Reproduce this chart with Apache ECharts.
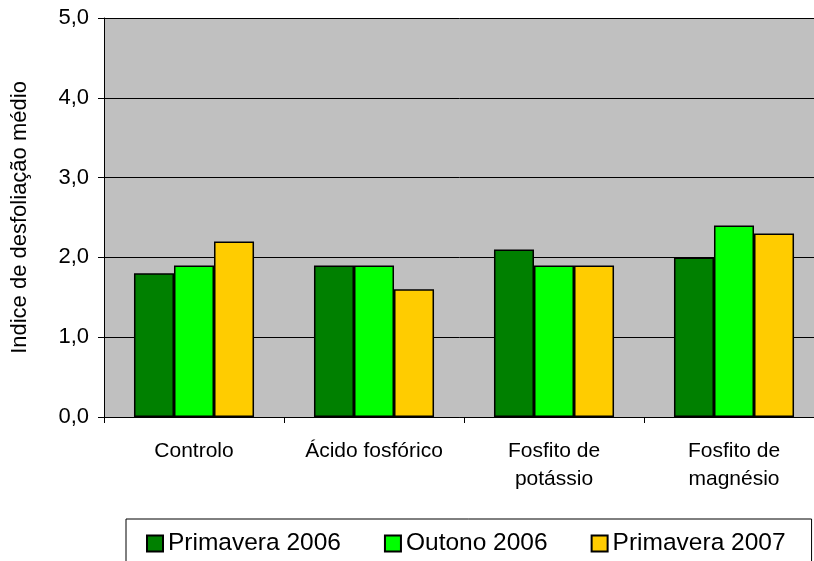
<!DOCTYPE html>
<html>
<head>
<meta charset="utf-8">
<script src="https://cdn.jsdelivr.net/npm/echarts@6/dist/echarts.min.js"></script>
<style>
  html, body { margin: 0; padding: 0; background: #fff; }
  #chart { width: 814px; height: 561px; }
</style>
</head>
<body>
<div id="chart"></div>
<script>
// categorias e valores
var categories = ["Controlo", "Ácido fosfórico", "Fosfito de\npotássio", "Fosfito de\nmagnésio"];
var seriesNames = ["Primavera 2006", "Outono 2006", "Primavera 2007"];
var primavera2006 = [1.8, 1.9, 2.1, 2.0];
var outono2006 = [1.9, 1.9, 1.9, 2.4];
var primavera2007 = [2.2, 1.6, 1.9, 2.3];
var colors = ["#008000", "#00FF00", "#FFCC00"];

var chart = echarts.init(document.getElementById("chart"));

function barSeries(name, data, color) {
  return {
    name: name,
    type: "bar",
    data: data,
    barGap: "0%",
    barCategoryGap: "33.3%",
    itemStyle: { color: color, borderColor: "#000", borderWidth: 1.5 }
  };
}

chart.setOption({
  animation: false,
  textStyle: { fontFamily: "Liberation Sans, Arial, sans-serif" },
  grid: {
    left: 104, top: 18, right: -10, bottom: 144,
    outerBoundsMode: "none",
    containLabel: false,
    backgroundColor: "#C0C0C0", show: true, borderWidth: 0
  },
  legend: {
    left: 126,
    top: 519,
    padding: [12, 26, 14, 20],
    itemGap: 43,
    itemWidth: 16,
    itemHeight: 16,
    icon: "rect",
    borderColor: "#000",
    borderWidth: 1,
    textStyle: { fontSize: 24.5, color: "#000", fontFamily: "Liberation Sans, Arial, sans-serif" },
    data: seriesNames
  },
  xAxis: {
    type: "category",
    data: categories,
    axisLine: { lineStyle: { color: "#000", width: 1 } },
    axisTick: { show: true, length: 6, lineStyle: { color: "#000" } },
    axisLabel: { color: "#000", fontSize: 21, margin: 20, lineHeight: 28, interval: 0 }
  },
  yAxis: {
    type: "value",
    min: 0,
    max: 5,
    interval: 1,
    name: "Indice de desfoliação médio",
    nameLocation: "middle",
    nameGap: 73,
    nameTextStyle: { fontSize: 22, color: "#000" },
    axisLine: { show: true, lineStyle: { color: "#000", width: 1 } },
    axisTick: { show: true, length: 6, lineStyle: { color: "#000" } },
    axisLabel: {
      color: "#000",
      fontSize: 22,
      margin: 15,
      formatter: function (v) { return v.toFixed(1).replace(".", ","); }
    },
    splitLine: { show: true, lineStyle: { color: "#000", width: 1 } }
  },
  series: [
    barSeries(seriesNames[0], primavera2006, colors[0]),
    barSeries(seriesNames[1], outono2006, colors[1]),
    barSeries(seriesNames[2], primavera2007, colors[2])
  ]
});
</script>
</body>
</html>
